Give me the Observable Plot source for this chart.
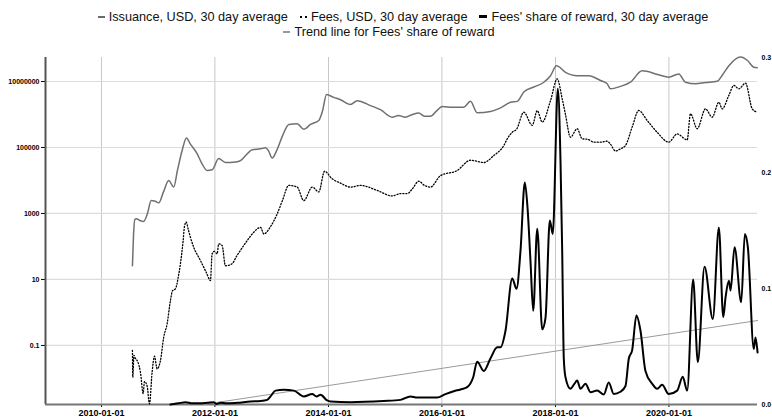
<!DOCTYPE html>
<html>
<head>
<meta charset="utf-8">
<script src="https://cdn.jsdelivr.net/npm/d3@7"></script>
<script src="https://cdn.jsdelivr.net/npm/@observablehq/plot@0.6"></script>
<style>
  html, body { margin: 0; padding: 0; background: #fff; }
  #legend { width: 772px; height: 45px; box-sizing: border-box; padding-top: 10px;
            font: 12.7px "Liberation Sans", Arial, sans-serif; color: #111; text-align: center; line-height: 15px; }
  #legend .item { display: inline-block; margin: 0 6px; white-space: nowrap; }
  #legend .sw { display: inline-block; vertical-align: middle; margin-right: 4px; position: relative; top: -1px; }
  #legend .row1 { padding-left: 34px; }
  #legend .row2 { padding-left: 6px; }
  #chart { position: relative; width: 772px; height: 374px; }
  #chart svg { position: absolute; left: 0; top: 0; }
</style>
</head>
<body>
<div id="legend"></div>
<div id="chart"></div>
<script>
// ---- data (decimal years) ----
const issuanceYears = [2010.546,2010.564,2010.590,2010.617,2010.687,2010.745,2010.811,2010.876,2010.934,2011.010,2011.093,2011.186,2011.274,2011.339,2011.422,2011.498,2011.568,2011.686,2011.762,2011.863,2011.951,2012.067,2012.185,2012.273,2012.361,2012.449,2012.537,2012.656,2012.802,2012.890,2012.943,2013.008,2013.084,2013.189,2013.300,2013.448,2013.565,2013.683,2013.829,2013.894,2013.965,2014.093,2014.211,2014.388,2014.506,2014.740,2014.916,2015.123,2015.233,2015.357,2015.480,2015.591,2015.692,2015.797,2015.903,2016.004,2016.185,2016.384,2016.502,2016.620,2016.855,2017.031,2017.207,2017.325,2017.441,2017.618,2017.794,2017.912,2018.018,2018.176,2018.382,2018.587,2018.793,2018.911,2018.969,2019.145,2019.322,2019.528,2019.820,2019.997,2020.173,2020.291,2020.467,2020.643,2020.849,2020.943,2021.054,2021.260,2021.378,2021.494,2021.554];
const issuanceUSD = [26,200,660,690,600,575,1000,2450,2400,2100,4500,10000,6300,20000,81000,195000,126000,65000,35000,20000,21000,46000,35000,35000,36000,40000,56000,85000,91000,98000,79000,48000,79000,224000,500000,525000,355000,500000,660000,1260000,4000000,3300000,2800000,2000000,2630000,1860000,1400000,830000,930000,830000,1000000,1100000,890000,890000,1260000,1740000,1660000,1660000,2500000,1120000,1230000,1580000,2340000,2500000,4800000,6800000,9500000,15000000,30000000,19000000,15000000,15000000,10700000,8500000,6000000,7100000,9500000,21000000,16000000,13500000,17000000,9500000,8500000,9300000,10200000,16000000,30000000,55000000,44000000,27000000,26000000];

const feesYears = [2010.546,2010.552,2010.573,2010.599,2010.640,2010.687,2010.735,2010.758,2010.805,2010.846,2010.893,2010.934,2010.982,2011.040,2011.098,2011.158,2011.216,2011.251,2011.304,2011.357,2011.392,2011.440,2011.463,2011.493,2011.533,2011.568,2011.626,2011.744,2011.850,2011.921,2011.951,2011.991,2012.039,2012.067,2012.127,2012.185,2012.303,2012.379,2012.449,2012.567,2012.684,2012.802,2012.860,2012.978,2013.096,2013.189,2013.300,2013.448,2013.565,2013.713,2013.829,2013.930,2014.065,2014.211,2014.388,2014.564,2014.858,2015.123,2015.269,2015.387,2015.480,2015.591,2015.692,2015.797,2015.974,2016.268,2016.502,2016.737,2016.908,2017.089,2017.149,2017.237,2017.313,2017.441,2017.590,2017.678,2017.766,2017.912,2018.030,2018.118,2018.176,2018.264,2018.382,2018.471,2018.564,2018.675,2018.793,2018.911,2018.969,2019.057,2019.145,2019.234,2019.352,2019.468,2019.616,2019.792,2019.997,2020.145,2020.321,2020.379,2020.497,2020.643,2020.761,2020.878,2020.937,2021.054,2021.142,2021.230,2021.348,2021.466,2021.554];
const feesUSD = [0.071,0.011,0.05,0.04,0.032,0.0155,0.0035,0.008,0.0059,0.0017,0.0155,0.047,0.0195,0.035,0.18,0.46,2.3,4.5,5.2,12.6,30,150,400,550,316,190,95,38,16,9.3,60,71,60,120,107,26,30,50,76,150,270,380,240,400,980,2500,7100,6300,2450,6300,4500,19000,11200,8300,6300,7100,5000,3400,4000,4000,5600,9500,7100,6300,14000,20000,41000,35000,56000,115000,182000,290000,355000,1170000,470000,1300000,590000,2630000,12000000,3000000,1000000,204000,370000,182000,178000,145000,145000,155000,126000,78000,91000,115000,417000,1320000,660000,290000,145000,257000,170000,1050000,370000,1480000,830000,2340000,1480000,3800000,7600000,6000000,8900000,1480000,1170000];

const shareYears = [2011.216,2011.357,2011.480,2011.604,2011.744,2011.868,2011.979,2012.026,2012.097,2012.203,2012.391,2012.626,2012.802,2012.920,2012.978,2013.066,2013.212,2013.389,2013.565,2013.713,2013.789,2013.859,2013.977,2014.035,2014.388,2014.969,2015.269,2015.445,2015.563,2015.709,2015.915,2016.062,2016.208,2016.326,2016.444,2016.550,2016.620,2016.737,2016.855,2016.973,2017.031,2017.119,2017.237,2017.313,2017.383,2017.459,2017.507,2017.559,2017.607,2017.678,2017.766,2017.824,2017.900,2017.952,2018.041,2018.088,2018.118,2018.146,2018.176,2018.264,2018.335,2018.382,2018.441,2018.529,2018.617,2018.735,2018.851,2018.939,2019.027,2019.145,2019.234,2019.292,2019.352,2019.427,2019.498,2019.586,2019.704,2019.792,2019.880,2019.997,2020.145,2020.243,2020.321,2020.426,2020.508,2020.626,2020.772,2020.878,2020.955,2020.996,2021.054,2021.084,2021.154,2021.272,2021.336,2021.389,2021.494,2021.524,2021.560];
const shareValues = [0,0.001,0.002,0.001,0.001,0.0015,0.002,0.0005,0.0015,0.001,0.0015,0.0026,0.003,0.004,0.007,0.012,0.0127,0.012,0.007,0.009,0.007,0.0084,0.0035,0.0026,0.002,0.003,0.004,0.007,0.006,0.006,0.006,0.009,0.0115,0.013,0.015,0.0236,0.037,0.029,0.040,0.0495,0.0495,0.064,0.109,0.100,0.133,0.192,0.17,0.124,0.081,0.152,0.065,0.075,0.159,0.1475,0.273,0.211,0.133,0.04,0.0236,0.0136,0.018,0.0207,0.0136,0.018,0.0106,0.012,0.0086,0.019,0.009,0.011,0.016,0.0395,0.047,0.077,0.064,0.029,0.018,0.0136,0.017,0.009,0.012,0.024,0.012,0.108,0.0366,0.119,0.074,0.153,0.0755,0.0928,0.107,0.0985,0.136,0.0884,0.1475,0.136,0.048,0.058,0.045];

const trendYears = [2011.797, 2021.560];
const trendValues = [0, 0.0726];

const xTickLabels = ["2010-01-01","2012-01-01","2014-01-01","2016-01-01","2018-01-01","2020-01-01"];
const leftTicks = [0.1, 10, 1000, 100000, 10000000];
const rightTicks = [0, 0.1, 0.2, 0.3];
const seriesNames = ["Issuance, USD, 30 day average", "Fees, USD, 30 day average", "Fees' share of reward, 30 day average", "Trend line for Fees' share of reward"];

// ---- helpers ----
const toDate = v => { const y = Math.floor(v); const a = Date.UTC(y, 0, 1), b = Date.UTC(y + 1, 0, 1); return new Date(a + (v - y) * (b - a)); };
const rows = (ys, vs) => ys.map((t, i) => ({date: toDate(t), value: vs[i]}));
const issuance = rows(issuanceYears, issuanceUSD);
const fees = rows(feesYears, feesUSD);
const share = rows(shareYears, shareValues);
const trend = rows(trendYears, trendValues);
const xTicks = xTickLabels.map(s => new Date(s + "T00:00:00Z"));
const fmt = d3.utcFormat("%Y-%m-%d");

// ---- legend ----
const swatches = [
  'width:7px;border-top:2px solid #6a6a6a',
  'width:7px;border-top:2px dotted #000',
  'width:8px;border-top:3px solid #000',
  'width:7px;border-top:2px solid #9a9a9a'
];
const leg = document.getElementById("legend");
const mk = i => `<span class="item"><span class="sw" style="${swatches[i]}"></span>${seriesNames[i]}</span>`;
leg.innerHTML = `<div class="row1">${mk(0)}${mk(1)}${mk(2)}</div><div class="row2">${mk(3)}</div>`;

// ---- charts ----
const W = 772, H = 374;
const margins = {marginLeft: 45, marginRight: 15, marginTop: 12, marginBottom: 15};
const xDomain = [toDate(2009.013), toDate(2021.559)];
const yLogDomain = [Math.pow(10, -2.79), Math.pow(10, 7.727)];
const tickFont = {fontFamily: "Liberation Sans, Arial, sans-serif", fontWeight: "bold"};

const left = Plot.plot({
  width: W, height: H, ...margins,
  style: {background: "transparent", overflow: "visible", fontFamily: "Liberation Sans, Arial, sans-serif"},
  x: {type: "utc", domain: xDomain},
  y: {type: "log", domain: yLogDomain},
  marks: [
    Plot.gridX(xTicks, {stroke: "#c8c8c8", strokeOpacity: 1, strokeWidth: 1}),
    Plot.gridY(leftTicks, {stroke: "#dcdcdc", strokeOpacity: 1, strokeWidth: 1.2}),
    Plot.axisY(leftTicks, {tickFormat: d => String(d), tickSize: 4, tickPadding: 2, fontSize: 7, ...tickFont, label: null}),
    Plot.axisX(xTicks, {tickFormat: fmt, tickSize: 3, tickPadding: 2, fontSize: 9, ...tickFont, label: null}),
    Plot.ruleX([xDomain[0]], {stroke: "#555", strokeWidth: 2}),
    Plot.ruleY([yLogDomain[0]], {stroke: "#777", strokeWidth: 2}),
    Plot.line(issuance, {x: "date", y: "value", stroke: "#707070", strokeWidth: 1.5, curve: "monotone-x"}),
    Plot.line(fees, {x: "date", y: "value", stroke: "#000", strokeWidth: 1.3, strokeDasharray: "1.1,1.9", curve: "monotone-x"})
  ]
});

const right = Plot.plot({
  width: W, height: H, ...margins,
  style: {background: "transparent", overflow: "visible", fontFamily: "Liberation Sans, Arial, sans-serif"},
  x: {type: "utc", domain: xDomain, axis: null},
  y: {domain: [0, 0.3]},
  marks: [
    Plot.axisY(rightTicks, {anchor: "right", tickFormat: d3.format(".1f"), tickSize: 0, tickPadding: 4, fontSize: 7, ...tickFont, label: null}),
    Plot.line(trend, {x: "date", y: "value", stroke: "#9a9a9a", strokeWidth: 1}),
    Plot.line(share, {x: "date", y: "value", stroke: "#000", strokeWidth: 2, curve: "monotone-x"})
  ]
});

const chart = document.getElementById("chart");
chart.appendChild(left);
chart.appendChild(right);
</script>
</body>
</html>
